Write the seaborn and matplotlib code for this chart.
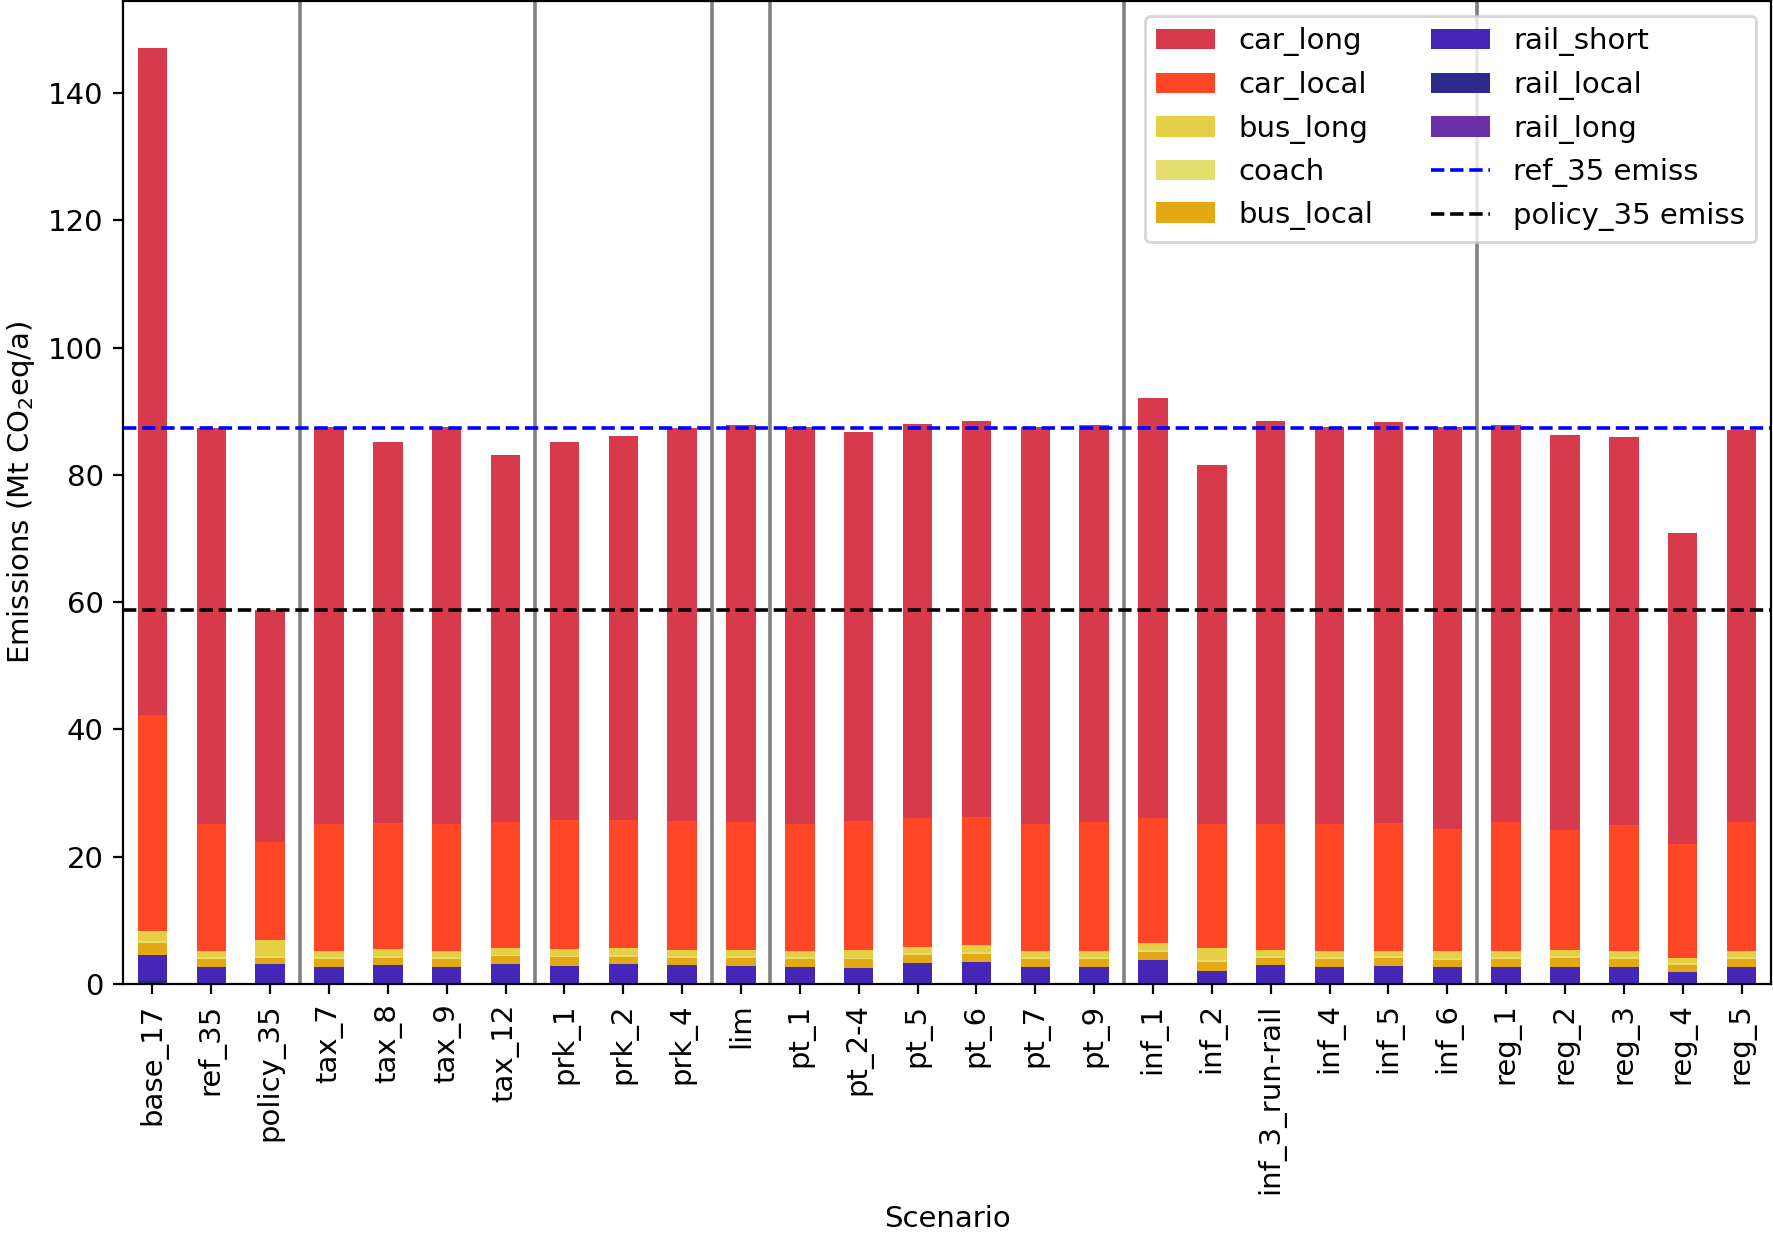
import numpy as np
import pandas as pd
import matplotlib
matplotlib.use('Agg')
import matplotlib.pyplot as plt
import seaborn as sns
from matplotlib.patches import Patch
from matplotlib.lines import Line2D

# scenarios and emissions per mode (Mt CO2eq/a)
scenarios = ['base_17', 'ref_35', 'policy_35', 'tax_7', 'tax_8', 'tax_9', 'tax_12',
             'prk_1', 'prk_2', 'prk_4', 'lim', 'pt_1', 'pt_2-4', 'pt_5', 'pt_6',
             'pt_7', 'pt_9', 'inf_1', 'inf_2', 'inf_3_run-rail', 'inf_4', 'inf_5',
             'inf_6', 'reg_1', 'reg_2', 'reg_3', 'reg_4', 'reg_5']

rail_long = [0.0] * 28
rail_local = [0.6] + [0.0] * 27
rail_short = [3.9, 2.7, 3.1, 2.7, 2.9, 2.7, 3.1, 2.8, 3.1, 2.9, 2.8, 2.7, 2.55, 3.35,
              3.5, 2.7, 2.7, 3.7, 2.1, 2.9, 2.7, 2.8, 2.7, 2.7, 2.7, 2.7, 1.95, 2.7]
bus_local = [2.0, 1.25, 1.05, 1.25, 1.25, 1.25, 1.25, 1.4, 1.2, 1.25, 1.35, 1.25, 1.35, 1.25,
             1.25, 1.25, 1.25, 1.35, 1.4, 1.2, 1.25, 1.3, 1.1, 1.25, 1.4, 1.25, 1.1, 1.25]
coach = [0.3, 0.25, 0.3, 0.25, 0.25, 0.25, 0.25, 0.25, 0.25, 0.25, 0.25, 0.25, 0.25, 0.25,
         0.25, 0.25, 0.25, 0.25, 0.3, 0.25, 0.25, 0.25, 0.25, 0.25, 0.25, 0.25, 0.2, 0.25]
bus_long = [1.5, 1.0, 2.5, 1.0, 1.05, 1.0, 1.0, 1.0, 1.1, 0.95, 1.0, 1.0, 1.15, 1.0,
            1.05, 1.0, 1.0, 1.15, 1.9, 1.0, 1.0, 0.9, 1.15, 1.0, 1.0, 1.0, 0.75, 1.0]
car_local = [34.0, 20.0, 15.4, 20.0, 19.9, 20.0, 19.8, 20.3, 20.1, 20.2, 20.0, 20.0, 20.3, 20.2,
             20.2, 20.0, 20.2, 19.6, 19.5, 19.8, 20.0, 20.1, 19.1, 20.2, 18.9, 19.8, 18.0, 20.2]
car_long = [104.8, 62.2, 36.4, 62.4, 59.9, 62.4, 57.7, 59.5, 60.4, 61.8, 62.5, 62.4, 61.1, 62.0,
            62.2, 62.4, 62.5, 66.1, 56.3, 63.3, 62.4, 62.9, 63.3, 62.5, 62.0, 61.0, 48.9, 61.6]

ref_35_emiss = 87.4
policy_35_emiss = 58.8
group_breaks = [2.5, 6.5, 9.5, 10.5, 16.5, 22.5]

# stacking order bottom -> top
modes = ['rail_long', 'rail_local', 'rail_short', 'bus_local', 'coach', 'bus_long',
         'car_local', 'car_long']
colors = {'car_long': '#d73b4b', 'car_local': '#ff4725', 'bus_long': '#e6ce45',
          'coach': '#e6dd6f', 'bus_local': '#e3a814', 'rail_short': '#4527b8',
          'rail_local': '#2d2a8b', 'rail_long': '#6b2fa7'}

df = pd.DataFrame({'rail_long': rail_long, 'rail_local': rail_local, 'rail_short': rail_short,
                   'bus_local': bus_local, 'coach': coach, 'bus_long': bus_long,
                   'car_local': car_local, 'car_long': car_long}, index=scenarios)
cum = df[modes].cumsum(axis=1)

plt.rcParams['font.size'] = 10.5

fig = plt.figure(figsize=(8.865, 6.165), dpi=200)
ax = fig.add_axes([0.0694, 0.202, 0.9295, 0.797])

# draw cumulative bars from the top layer down, each one covering the lower part
for m in modes[::-1]:
    sns.barplot(x=scenarios, y=cum[m].values, order=scenarios, color=colors[m],
                saturation=1, width=0.5, errorbar=None, ax=ax)

for xb in group_breaks:
    ax.axvline(xb, color='gray', lw=1.3)
ax.axhline(ref_35_emiss, color='blue', ls='--', lw=1.3)
ax.axhline(policy_35_emiss, color='black', ls='--', lw=1.3)

ax.set_xlim(-0.5, len(scenarios) - 0.5)
ax.set_ylim(0, max(cum['car_long']) * 1.05)
ax.set_yticks(np.arange(0, 141, 20))
plt.xticks(rotation=90)
ax.set_xlabel('Scenario')
ax.set_ylabel('Emissions (Mt CO$_2$eq/a)')

legend_order = ['car_long', 'car_local', 'bus_long', 'coach', 'bus_local',
                'rail_short', 'rail_local', 'rail_long']
handles = [Patch(facecolor=colors[m], label=m) for m in legend_order]
handles += [Line2D([], [], color='blue', ls='--', lw=1.3, label='ref_35 emiss'),
            Line2D([], [], color='black', ls='--', lw=1.3, label='policy_35 emiss')]
ax.legend(handles=handles, ncol=2, loc='upper right')

plt.savefig('out.png', dpi=200)
